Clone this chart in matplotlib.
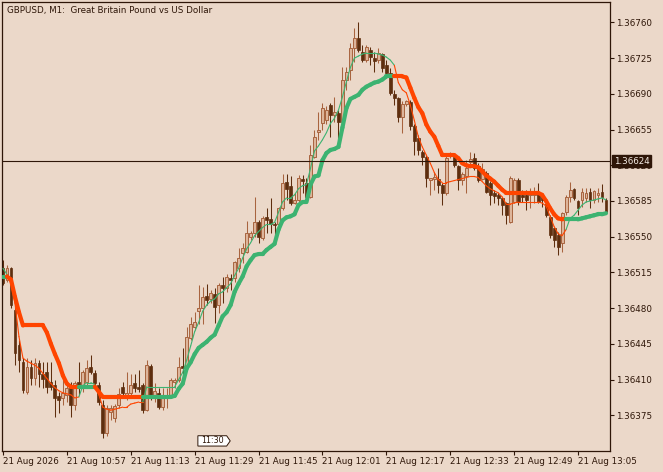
import matplotlib
matplotlib.use("Agg")
import matplotlib.pyplot as plt
import numpy as np
from matplotlib.collections import LineCollection
from matplotlib.patches import Polygon
import matplotlib.transforms as mtransforms

# ---------------- data (GBPUSD M1, 152 bars starting 21 Aug 10:41) ----------------
opens = [1.36519, 1.36508, 1.36519, 1.36478, 1.36444, 1.36427, 1.36398, 1.36422, 1.36412, 1.36426,
         1.36415, 1.36417, 1.36408, 1.36405, 1.36394, 1.36392, 1.36395, 1.36402, 1.36385, 1.36408,
         1.36403, 1.36408, 1.36422, 1.36416, 1.36405, 1.36385, 1.36358, 1.36378, 1.36372, 1.36385,
         1.36403, 1.36395, 1.36397, 1.36407, 1.36403, 1.36405, 1.36380, 1.36423, 1.36395, 1.36397,
         1.36383, 1.36393, 1.36393, 1.36408, 1.36410, 1.36423, 1.36423, 1.36451, 1.36462, 1.36477,
         1.36480, 1.36492, 1.36489, 1.36494, 1.36483, 1.36503, 1.36500, 1.36510, 1.36510, 1.36519,
         1.36534, 1.36535, 1.36550, 1.36554, 1.36564, 1.36549, 1.36569, 1.36567, 1.36562, 1.36562,
         1.36578, 1.36604, 1.36600, 1.36583, 1.36586, 1.36607, 1.36603, 1.36589, 1.36628, 1.36653,
         1.36661, 1.36664, 1.36679, 1.36669, 1.36671, 1.36662, 1.36704, 1.36713, 1.36735, 1.36745,
         1.36731, 1.36723, 1.36733, 1.36725, 1.36723, 1.36729, 1.36718, 1.36710, 1.36690, 1.36686,
         1.36667, 1.36680, 1.36682, 1.36658, 1.36647, 1.36633, 1.36628, 1.36606, 1.36607, 1.36607,
         1.36601, 1.36593, 1.36629, 1.36628, 1.36619, 1.36606, 1.36609, 1.36623, 1.36627, 1.36619,
         1.36607, 1.36612, 1.36603, 1.36593, 1.36591, 1.36588, 1.36583, 1.36564, 1.36584, 1.36606,
         1.36591, 1.36591, 1.36591, 1.36591, 1.36593, 1.36589, 1.36582, 1.36569, 1.36559, 1.36552,
         1.36544, 1.36574, 1.36589, 1.36597, 1.36585, 1.36586, 1.36588, 1.36594, 1.36586, 1.36591,
         1.36594, 1.36586]
highs = [1.36527, 1.36522, 1.36520, 1.36488, 1.36449, 1.36431, 1.36431, 1.36429, 1.36431, 1.36429,
         1.36427, 1.36427, 1.36427, 1.36410, 1.36398, 1.36413, 1.36408, 1.36408, 1.36409, 1.36427,
         1.36419, 1.36429, 1.36434, 1.36419, 1.36408, 1.36390, 1.36385, 1.36385, 1.36386, 1.36402,
         1.36408, 1.36417, 1.36415, 1.36415, 1.36419, 1.36407, 1.36429, 1.36425, 1.36407, 1.36402,
         1.36402, 1.36402, 1.36412, 1.36412, 1.36432, 1.36441, 1.36462, 1.36471, 1.36476, 1.36503,
         1.36501, 1.36504, 1.36498, 1.36500, 1.36505, 1.36511, 1.36513, 1.36513, 1.36526, 1.36539,
         1.36544, 1.36565, 1.36556, 1.36589, 1.36566, 1.36570, 1.36578, 1.36588, 1.36564, 1.36579,
         1.36611, 1.36611, 1.36609, 1.36593, 1.36610, 1.36610, 1.36608, 1.36640, 1.36655, 1.36672,
         1.36681, 1.36678, 1.36681, 1.36687, 1.36674, 1.36716, 1.36716, 1.36740, 1.36755, 1.36760,
         1.36738, 1.36738, 1.36736, 1.36731, 1.36735, 1.36730, 1.36723, 1.36715, 1.36694, 1.36687,
         1.36683, 1.36684, 1.36684, 1.36660, 1.36650, 1.36635, 1.36630, 1.36608, 1.36613, 1.36617,
         1.36603, 1.36630, 1.36633, 1.36629, 1.36620, 1.36613, 1.36625, 1.36633, 1.36632, 1.36622,
         1.36622, 1.36614, 1.36605, 1.36596, 1.36593, 1.36589, 1.36584, 1.36609, 1.36608, 1.36608,
         1.36596, 1.36596, 1.36598, 1.36599, 1.36603, 1.36591, 1.36583, 1.36571, 1.36560, 1.36555,
         1.36574, 1.36591, 1.36604, 1.36598, 1.36586, 1.36598, 1.36598, 1.36598, 1.36596, 1.36598,
         1.36602, 1.36588]
lows = [1.36503, 1.36506, 1.36480, 1.36424, 1.36417, 1.36397, 1.36396, 1.36405, 1.36405, 1.36403,
        1.36402, 1.36397, 1.36400, 1.36373, 1.36377, 1.36385, 1.36388, 1.36373, 1.36380, 1.36395,
        1.36398, 1.36404, 1.36415, 1.36402, 1.36385, 1.36353, 1.36355, 1.36370, 1.36368, 1.36382,
        1.36395, 1.36390, 1.36395, 1.36398, 1.36398, 1.36377, 1.36379, 1.36390, 1.36388, 1.36381,
        1.36380, 1.36382, 1.36392, 1.36402, 1.36408, 1.36408, 1.36422, 1.36449, 1.36459, 1.36464,
        1.36464, 1.36483, 1.36485, 1.36465, 1.36475, 1.36485, 1.36496, 1.36498, 1.36506, 1.36515,
        1.36524, 1.36534, 1.36547, 1.36550, 1.36544, 1.36547, 1.36554, 1.36554, 1.36549, 1.36560,
        1.36576, 1.36586, 1.36581, 1.36582, 1.36584, 1.36593, 1.36588, 1.36588, 1.36627, 1.36645,
        1.36655, 1.36660, 1.36648, 1.36662, 1.36645, 1.36660, 1.36694, 1.36704, 1.36721, 1.36731,
        1.36721, 1.36721, 1.36718, 1.36711, 1.36720, 1.36711, 1.36706, 1.36689, 1.36679, 1.36662,
        1.36652, 1.36678, 1.36655, 1.36630, 1.36630, 1.36620, 1.36599, 1.36591, 1.36596, 1.36593,
        1.36581, 1.36591, 1.36627, 1.36618, 1.36596, 1.36601, 1.36593, 1.36620, 1.36615, 1.36604,
        1.36606, 1.36593, 1.36581, 1.36583, 1.36581, 1.36571, 1.36562, 1.36563, 1.36583, 1.36581,
        1.36584, 1.36576, 1.36578, 1.36583, 1.36583, 1.36579, 1.36569, 1.36549, 1.36540, 1.36532,
        1.36535, 1.36571, 1.36584, 1.36586, 1.36571, 1.36579, 1.36584, 1.36578, 1.36583, 1.36584,
        1.36584, 1.36573]
closes = [1.36505, 1.36519, 1.36483, 1.36436, 1.36429, 1.36400, 1.36422, 1.36412, 1.36426, 1.36415,
          1.36411, 1.36403, 1.36403, 1.36392, 1.36390, 1.36397, 1.36402, 1.36385, 1.36407, 1.36402,
          1.36417, 1.36421, 1.36417, 1.36407, 1.36388, 1.36358, 1.36382, 1.36382, 1.36384, 1.36396,
          1.36397, 1.36397, 1.36405, 1.36402, 1.36401, 1.36380, 1.36424, 1.36393, 1.36399, 1.36383,
          1.36393, 1.36395, 1.36410, 1.36410, 1.36422, 1.36421, 1.36452, 1.36464, 1.36466, 1.36480,
          1.36491, 1.36488, 1.36495, 1.36481, 1.36503, 1.36500, 1.36511, 1.36508, 1.36525, 1.36529,
          1.36539, 1.36554, 1.36554, 1.36564, 1.36550, 1.36568, 1.36566, 1.36562, 1.36561, 1.36578,
          1.36603, 1.36597, 1.36583, 1.36586, 1.36608, 1.36605, 1.36589, 1.36630, 1.36648, 1.36655,
          1.36676, 1.36674, 1.36669, 1.36672, 1.36662, 1.36704, 1.36711, 1.36735, 1.36745, 1.36733,
          1.36723, 1.36736, 1.36726, 1.36722, 1.36730, 1.36715, 1.36710, 1.36691, 1.36686, 1.36667,
          1.36680, 1.36683, 1.36658, 1.36644, 1.36635, 1.36628, 1.36608, 1.36607, 1.36608, 1.36601,
          1.36593, 1.36627, 1.36632, 1.36620, 1.36606, 1.36611, 1.36617, 1.36626, 1.36617, 1.36606,
          1.36616, 1.36594, 1.36591, 1.36590, 1.36588, 1.36581, 1.36571, 1.36608, 1.36606, 1.36584,
          1.36589, 1.36586, 1.36594, 1.36593, 1.36584, 1.36586, 1.36571, 1.36552, 1.36547, 1.36540,
          1.36573, 1.36589, 1.36596, 1.36588, 1.36578, 1.36594, 1.36593, 1.36586, 1.36595, 1.36593,
          1.36589, 1.36574]
# slow (thick) and fast (thin) moving averages
slow_ma = [1.36511, 1.36511, 1.36508, 1.36491, 1.36476, 1.36463, 1.36463, 1.36463, 1.36463, 1.36463,
           1.36463, 1.36456, 1.36445, 1.36435, 1.36426, 1.36414, 1.36406, 1.36403, 1.36403, 1.36403,
           1.36403, 1.36403, 1.36403, 1.36403, 1.36398, 1.36393, 1.36393, 1.36393, 1.36393, 1.36393,
           1.36393, 1.36393, 1.36393, 1.36393, 1.36393, 1.36393, 1.36393, 1.36393, 1.36393, 1.36393,
           1.36393, 1.36393, 1.36393, 1.36394, 1.36401, 1.36406, 1.36421, 1.36427, 1.36435, 1.36441,
           1.36444, 1.36447, 1.36451, 1.36454, 1.36463, 1.36472, 1.36476, 1.36483, 1.36496, 1.36504,
           1.36511, 1.36521, 1.36527, 1.36532, 1.36533, 1.36533, 1.36537, 1.36540, 1.36543, 1.36557,
           1.36566, 1.36569, 1.36570, 1.36572, 1.36581, 1.36584, 1.36584, 1.36601, 1.36609, 1.36610,
           1.36625, 1.36632, 1.36635, 1.36636, 1.36638, 1.36657, 1.36676, 1.36685, 1.36687, 1.36689,
           1.36694, 1.36697, 1.36699, 1.36701, 1.36702, 1.36704, 1.36707, 1.36707, 1.36707, 1.36707,
           1.36707, 1.36706, 1.36696, 1.36686, 1.36677, 1.36671, 1.36660, 1.36653, 1.36648, 1.36639,
           1.36630, 1.36630, 1.36630, 1.36630, 1.36627, 1.36622, 1.36620, 1.36619, 1.36619, 1.36618,
           1.36614, 1.36610, 1.36607, 1.36604, 1.36600, 1.36596, 1.36593, 1.36593, 1.36593, 1.36593,
           1.36593, 1.36593, 1.36593, 1.36593, 1.36593, 1.36591, 1.36585, 1.36578, 1.36572, 1.36568,
           1.36567, 1.36567, 1.36567, 1.36567, 1.36567, 1.36568, 1.36569, 1.36570, 1.36571, 1.36572,
           1.36572, 1.36573]
fast_ma = [1.36519, 1.36513, 1.36504, 1.36485, 1.36452, 1.36431, 1.36428, 1.36426, 1.36424, 1.36421,
           1.36416, 1.36411, 1.36406, 1.36402, 1.36399, 1.36397, 1.36396, 1.36395, 1.36392, 1.36393,
           1.36404, 1.36407, 1.36407, 1.36405, 1.36395, 1.36383, 1.36381, 1.36380, 1.36381, 1.36382,
           1.36383, 1.36383, 1.36386, 1.36387, 1.36388, 1.36388, 1.36403, 1.36403, 1.36403, 1.36403,
           1.36403, 1.36403, 1.36403, 1.36403, 1.36410, 1.36417, 1.36429, 1.36443, 1.36457, 1.36466,
           1.36477, 1.36483, 1.36487, 1.36489, 1.36494, 1.36496, 1.36500, 1.36504, 1.36512, 1.36519,
           1.36529, 1.36538, 1.36544, 1.36551, 1.36555, 1.36559, 1.36562, 1.36562, 1.36564, 1.36574,
           1.36584, 1.36588, 1.36588, 1.36591, 1.36597, 1.36600, 1.36601, 1.36617, 1.36634, 1.36639,
           1.36645, 1.36652, 1.36661, 1.36666, 1.36674, 1.36687, 1.36702, 1.36716, 1.36725, 1.36727,
           1.36729, 1.36730, 1.36730, 1.36730, 1.36729, 1.36728, 1.36726, 1.36723, 1.36718, 1.36701,
           1.36694, 1.36691, 1.36679, 1.36664, 1.36648, 1.36638, 1.36630, 1.36622, 1.36613, 1.36606,
           1.36603, 1.36603, 1.36604, 1.36605, 1.36606, 1.36607, 1.36608, 1.36609, 1.36609, 1.36608,
           1.36604, 1.36600, 1.36597, 1.36595, 1.36593, 1.36589, 1.36582, 1.36582, 1.36583, 1.36584,
           1.36584, 1.36584, 1.36584, 1.36584, 1.36584, 1.36583, 1.36580, 1.36570, 1.36560, 1.36553,
           1.36551, 1.36557, 1.36568, 1.36571, 1.36576, 1.36581, 1.36584, 1.36585, 1.36586, 1.36587,
           1.36588, 1.36586]

tick_bars = [0, 16, 32, 48, 64, 80, 96, 112, 128, 144]
tick_labels = ["21 Aug 2026", "21 Aug 10:57", "21 Aug 11:13", "21 Aug 11:29", "21 Aug 11:45",
               "21 Aug 12:01", "21 Aug 12:17", "21 Aug 12:33", "21 Aug 12:49", "21 Aug 13:05"]
price_ticks = [1.36375, 1.36410, 1.36445, 1.36480, 1.36515, 1.36550, 1.36585, 1.36620,
               1.36655, 1.36690, 1.36725, 1.36760]
hline_price = 1.36624
marker_bar = 49
marker_label = "11:30"
title = "GBPUSD, M1:  Great Britain Pound vs US Dollar"

# ---------------- style ----------------
BG = "#EBD8C9"
FG = "#2E1608"
BEAR = "#5E2E0E"
BULL_FILL = "#DDB59B"
BULL_EDGE = "#A8643F"
GREEN = "#3CB371"
ORANGE = "#FF4500"
FS = 6.3

o = np.array(opens); h = np.array(highs); l = np.array(lows); c = np.array(closes)
slow = np.array(slow_ma); fast = np.array(fast_ma)
n = len(c)
x = np.arange(n)

W, H = 663, 472
fig = plt.figure(figsize=(W / 100, H / 100), dpi=100)
fig.patch.set_facecolor(BG)
ax = fig.add_axes([2 / W, 1 - 451 / H, 608 / W, 449 / H])
ax.set_facecolor(BG)

up = c >= o
dn = ~up
ax.vlines(x[up], l[up], h[up], color=BULL_EDGE, lw=0.75, zorder=2)
ax.vlines(x[dn], l[dn], h[dn], color=BEAR, lw=0.75, zorder=2)
bottom = np.minimum(o, c)
height = np.maximum(np.abs(c - o), 0.000012)
ax.bar(x[up], height[up], bottom=bottom[up], width=0.72, color=BULL_FILL,
       edgecolor=BULL_EDGE, linewidth=0.7, zorder=2.2)
ax.bar(x[dn], height[dn], bottom=bottom[dn], width=0.72, color=BEAR,
       edgecolor=BEAR, linewidth=0.5, zorder=2.2)

state = fast > slow
def colored_line(y, lw, z):
    pts = np.column_stack([x, y])
    segs = np.stack([pts[:-1], pts[1:]], axis=1)
    cols = np.where(state[1:], GREEN, ORANGE)
    lc = LineCollection(segs, colors=cols, linewidths=lw, capstyle="round",
                        joinstyle="round", zorder=z)
    ax.add_collection(lc)

colored_line(slow, 3.0, 3)
colored_line(fast, 0.8, 3.2)

ax.axhline(hline_price, color=FG, lw=0.8, zorder=4)

ax.set_xlim(-0.25, 152.0)
ax.set_ylim(1.36340, 1.36780)

for s in ax.spines.values():
    s.set_color(FG)
    s.set_linewidth(0.9)

ax.yaxis.tick_right()
ax.set_yticks(price_ticks)
ax.set_yticklabels([f"{p:.5f}" for p in price_ticks])
ax.tick_params(axis="y", direction="out", length=3, width=0.8, colors=FG,
               labelsize=FS, pad=1.2, labelcolor=FG)
ax.set_xticks(tick_bars)
ax.set_xticklabels(tick_labels)
for t in ax.get_xticklabels():
    t.set_horizontalalignment("left")
ax.tick_params(axis="x", direction="out", length=3, width=0.8, colors=FG,
               labelsize=FS, pad=1.5, labelcolor=FG)

# current price label box on the price scale
trans = mtransforms.blended_transform_factory(ax.transAxes, ax.transData)
ax.text(1.006, hline_price, f"{hline_price:.5f}", transform=trans, ha="left", va="center",
        fontsize=FS, color="#F4ECE4", zorder=10, clip_on=False,
        bbox=dict(boxstyle="square,pad=0.18", fc=FG, ec=FG))

# time marker on the bottom
tb = mtransforms.blended_transform_factory(ax.transData, ax.transAxes)
y0, y1 = 0.011, 0.034
x0 = marker_bar - 0.2
x1 = marker_bar + 7.0
poly = Polygon([(x0, y0), (x0, y1), (x1, y1), (x1 + 0.9, (y0 + y1) / 2), (x1, y0)],
               closed=True, transform=tb, fc="white", ec=FG, lw=0.7, zorder=6)
ax.add_patch(poly)
ax.text((x0 + x1) / 2, (y0 + y1) / 2, marker_label, transform=tb, ha="center", va="center",
        fontsize=5.8, color=FG, zorder=7)

fig.text(7 / W, 1 - 10 / H, title, ha="left", va="center", fontsize=FS, color=FG)

fig.savefig("out.png", dpi=100, facecolor=BG)
